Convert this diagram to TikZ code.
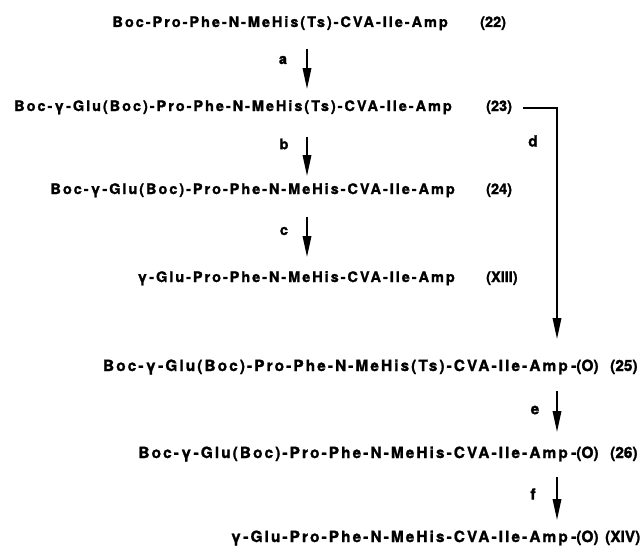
\documentclass[tikz,border=0pt]{standalone}
\usepackage{fontspec}
\usetikzlibrary{arrows.meta}
% formula text is set tracked; compound numbers are set solid
\newfontfamily\chemfont{TeX Gyre Heros}[LetterSpace=13.5, BoldFeatures={FakeBold=1.5}]
\newfontfamily\numfont{TeX Gyre Heros}[BoldFeatures={FakeBold=1.5}]

\begin{document}
\begin{tikzpicture}[
    x=1pt, y=-1pt,
    chem/.style={font=\chemfont\bfseries\fontsize{14.5}{17}\selectfont, inner sep=0pt},
    chemL/.style={font=\chemfont\bfseries\fontsize{15.4}{18}\selectfont, inner sep=0pt},
    numU/.style={font=\numfont\bfseries\fontsize{14.5}{17}\selectfont, inner sep=0pt, anchor=base west},
    numL/.style={font=\numfont\bfseries\fontsize{15.4}{18}\selectfont, inner sep=0pt, anchor=base west},
    cmpd/.style={chem, anchor=base east},
    cmpdL/.style={chemL, anchor=base east},
    rxn/.style={line width=1.8pt, -{Triangle[length=21pt,width=8.5pt]}}
  ]
  \useasboundingbox (0,0) rectangle (642,546);

  % upper sequence
  \node[cmpd] (s22) at (448,27)  {Boc-Pro-Phe-N-MeHis(Ts)-CVA-Ile-Amp};
  \node[numU] (n22) at (480,27)  {(22)};
  \node[cmpd] (s23) at (452,111) {Boc-γ-Glu(Boc)-Pro-Phe-N-MeHis(Ts)-CVA-Ile-Amp};
  \node[numU] (n23) at (486,111) {(23)};
  \node[cmpd] (s24) at (455,194) {Boc-γ-Glu(Boc)-Pro-Phe-N-MeHis-CVA-Ile-Amp};
  \node[numU] (n24) at (486,194) {(24)};
  \node[cmpd] (s13) at (455,282) {γ-Glu-Pro-Phe-N-MeHis-CVA-Ile-Amp};
  \node[numU] (n13) at (486,282) {(XIII)};

  % lower sequence (resin-bound)
  \node[cmpdL] (s25) at (568,371) {Boc-γ-Glu(Boc)-Pro-Phe-N-MeHis(Ts)-CVA-Ile-Amp};
  \node[numL]  (o25) at (571,371) {-(O)};
  \node[numL]  (n25) at (610,371) {(25)};
  \node[cmpdL] (s26) at (568,458) {Boc-γ-Glu(Boc)-Pro-Phe-N-MeHis-CVA-Ile-Amp};
  \node[numL]  (o26) at (571,458) {-(O)};
  \node[numL]  (n26) at (610,458) {(26)};
  \node[cmpdL] (s14) at (568,542) {γ-Glu-Pro-Phe-N-MeHis-CVA-Ile-Amp};
  \node[numL]  (o14) at (571,542) {-(O)};
  \node[numL]  (n14) at (605,542) {(XIV)};

  % arrow end points
  \coordinate (a0) at (307,49);  \coordinate (a1) at (307,89);
  \coordinate (b0) at (307,137); \coordinate (b1) at (307,176);
  \coordinate (c0) at (307,217); \coordinate (c1) at (307,257);
  \coordinate (d0) at (523,108); \coordinate (d1) at (557,339);
  \coordinate (e0) at (557,391); \coordinate (e1) at (557,432);
  \coordinate (f0) at (557,477); \coordinate (f1) at (557,520);

  \draw[rxn] (a0) -- (a1);
  \draw[rxn] (b0) -- (b1);
  \draw[rxn] (c0) -- (c1);
  \draw[rxn] (d0) -| (d1);
  \draw[rxn] (e0) -- (e1);
  \draw[rxn] (f0) -- (f1);

  % reagent labels
  \node[chem]  (la) at (283,60)  {a};
  \node[chem]  (lb) at (284,144) {b};
  \node[chem]  (lc) at (284,231) {c};
  \node[chemL] (ld) at (533,141) {d};
  \node[chemL] (le) at (535,410) {e};
  \node[chemL] (lf) at (533,494) {f};
\end{tikzpicture}
\end{document}
